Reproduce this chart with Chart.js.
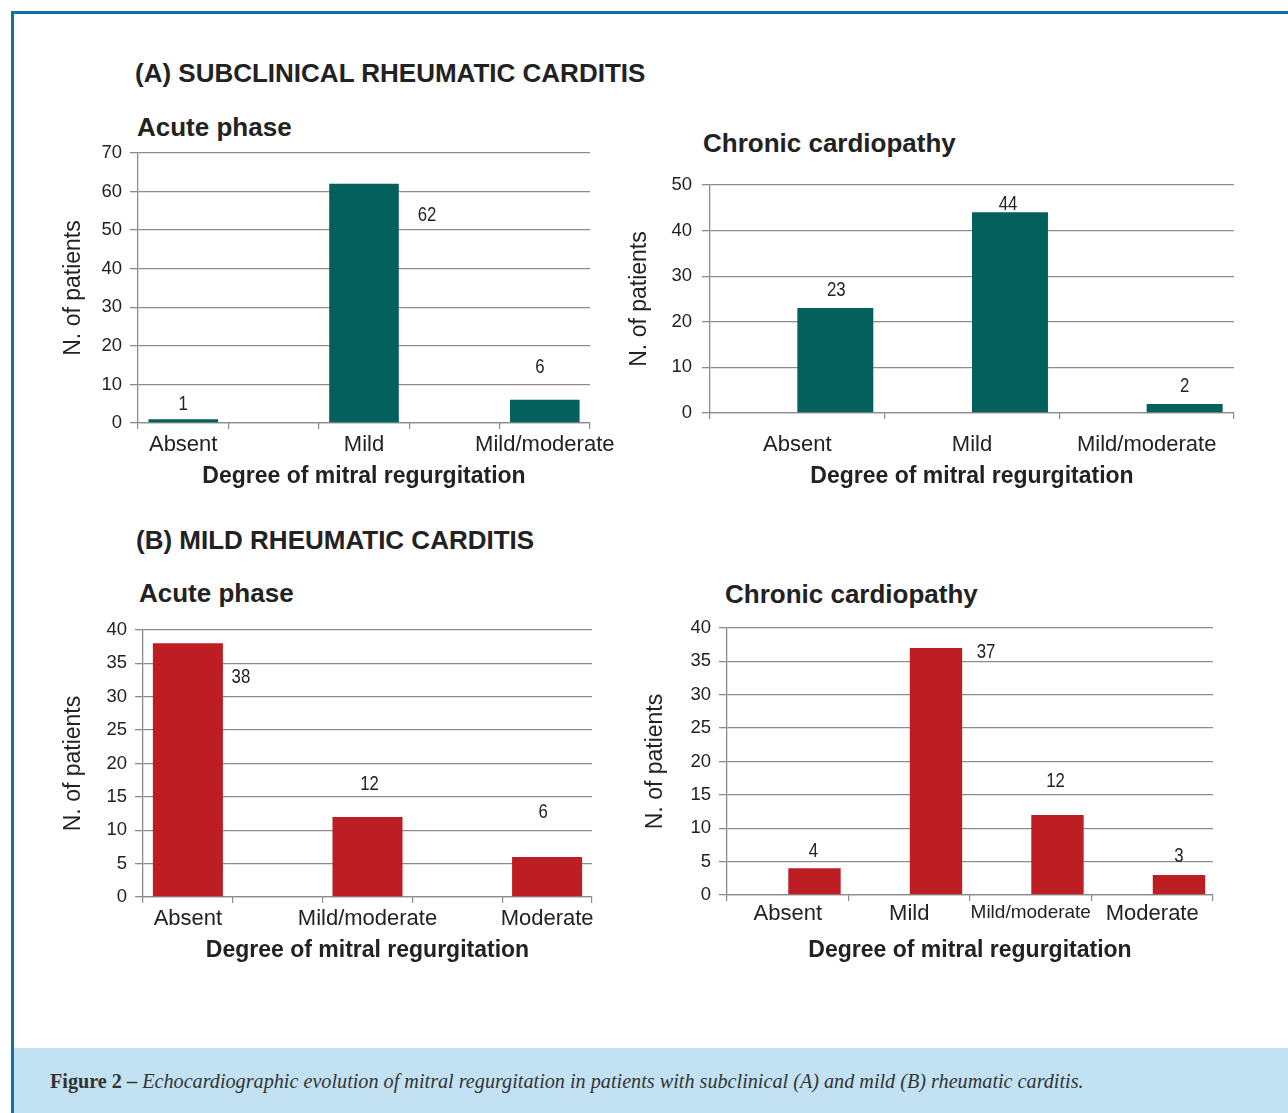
<!DOCTYPE html>
<html>
<head>
<meta charset="utf-8">
<script src="https://cdn.jsdelivr.net/npm/chart.js@4.4.0/dist/chart.umd.min.js"></script>
<style>
  body { margin: 0; background: #fff; width: 1288px; height: 1113px; position: relative; overflow: hidden;
         font-family: 'Liberation Sans', Arial, sans-serif; color: #222; }
  .frame-top { position: absolute; left: 11px; top: 11px; width: 1277px; height: 3px; background: #1370a3; }
  .frame-left { position: absolute; left: 11px; top: 11px; width: 3px; height: 1102px; background: #1370a3; }
  .heading { position: absolute; font-weight: bold; font-size: 26px; line-height: 1; white-space: nowrap; }
  .chart { position: absolute; }
  .caption { position: absolute; left: 14px; top: 1048px; width: 1274px; height: 65px; background: #c2e2f3; }
  .caption p { position: absolute; margin: 0; left: 36px; top: 23px; white-space: nowrap; line-height: 1;
               font-family: 'Liberation Serif', serif; font-size: 20.2px; color: #333; }
  .caption i { font-style: italic; }
</style>
</head>
<body>
<div class="frame-top"></div>
<div class="frame-left"></div>

<div class="heading" style="left:135px; top:60px;">(A) SUBCLINICAL RHEUMATIC CARDITIS</div>
<div class="heading" style="left:137px; top:114px;">Acute phase</div>
<div class="heading" style="left:703px; top:130px;">Chronic cardiopathy</div>
<div class="heading" style="left:136px; top:527px;">(B) MILD RHEUMATIC CARDITIS</div>
<div class="heading" style="left:139px; top:580px;">Acute phase</div>
<div class="heading" style="left:725px; top:581px;">Chronic cardiopathy</div>

<canvas id="acuteA" class="chart"></canvas>
<canvas id="chronicA" class="chart"></canvas>
<canvas id="acuteB" class="chart"></canvas>
<canvas id="chronicB" class="chart"></canvas>

<div class="caption"><p><b>Figure 2 –</b> <i>Echocardiographic evolution of mitral regurgitation in patients with subclinical (A) and mild (B) rheumatic carditis.</i></p></div>

<script>
// datos
// (A) subclínica - fase aguda (las categorías vacías son los huecos del gráfico original)
const acuteA_labels = ['Absent', '', 'Mild', '', 'Mild/moderate'];
const acuteA_values = [1, null, 62, null, 6];
// (A) subclínica - cardiopatía crónica
const chronicA_labels = ['Absent', 'Mild', 'Mild/moderate'];
const chronicA_values = [23, 44, 2];
// (B) leve - fase aguda
const acuteB_labels = ['Absent', '', 'Mild/moderate', '', 'Moderate'];
const acuteB_values = [38, null, 12, null, 6];
// (B) leve - cardiopatía crónica
const chronicB_labels = ['Absent', 'Mild', 'Mild/moderate', 'Moderate'];
const chronicB_values = [4, 37, 12, 3];

const yTicksA1 = { max: 70, step: 10 };
const yTicksA2 = { max: 50, step: 10 };
const yTicksB = { max: 40, step: 5 };

const TEAL = '#04605c';
const RED = '#bd1e24';
const GRID = '#8c8c8c';
const TEXT = '#222';
const SANS = "'Liberation Sans', Arial, sans-serif";

Chart.defaults.font.family = SANS;
Chart.defaults.color = TEXT;

// Etiquetas de valor sobre las barras (desplazadas como en el original, letra estrecha)
const valueLabels = {
    id: 'valueLabels',
    afterDatasetsDraw(chart, args, opts) {
        const ctx = chart.ctx;
        let k = 0;
        chart.data.datasets.forEach((ds, i) => {
            const meta = chart.getDatasetMeta(i);
            meta.data.forEach((bar, j) => {
                const v = ds.data[j];
                if (v === null || v === undefined) return;
                const off = opts.offsets[k++] || [0, -16];
                ctx.save();
                ctx.font = '21px ' + SANS;
                ctx.fillStyle = TEXT;
                ctx.textAlign = 'center';
                ctx.textBaseline = 'middle';
                ctx.translate(bar.x + off[0], bar.y + off[1]);
                ctx.scale(0.8, 1);
                ctx.fillText(String(v), 0, 0);
                ctx.restore();
            });
        });
    }
};

// Crea un gráfico cuyo área de trazado cae en el rectángulo geo (coordenadas de página)
function makeChart(id, geo, labels, datasets, yTicks, extra) {
    const canvas = document.getElementById(id);
    const cLeft = geo.L - 100, cTop = geo.T - 15;
    const cW = geo.R - geo.L + 160, cH = geo.xTitleY - geo.T + 45;
    canvas.style.left = cLeft + 'px';
    canvas.style.top = cTop + 'px';
    canvas.width = cW;
    canvas.height = cH;
    canvas.style.width = cW + 'px';
    canvas.style.height = cH + 'px';

    const yTitleFont = 23, xTitleFont = 23;
    const yOffset = yTitleFont * 1.2 / 2 + 4;
    const xOffset = xTitleFont * 1.2 / 2 + 4;
    const padLeft = geo.yTitleX - yOffset - cLeft;
    const padTop = geo.T - cTop;
    const padRight = cLeft + cW - geo.R;
    const xBottom = geo.xTitleY + xOffset;
    const padBottom = cTop + cH - xBottom;
    const yWidth = geo.L - cLeft - padLeft;
    const xHeight = xBottom - geo.B;

    return new Chart(canvas, {
        type: 'bar',
        data: { labels: labels, datasets: datasets },
        options: {
            responsive: false,
            animation: false,
            events: [],
            layout: { padding: { left: padLeft, top: padTop, right: padRight, bottom: padBottom } },
            plugins: {
                legend: { display: false },
                tooltip: { enabled: false },
                valueLabels: { offsets: extra.offsets }
            },
            scales: {
                x: {
                    grid: { drawOnChartArea: false, drawTicks: true, tickLength: 6, color: GRID, lineWidth: 1.2 },
                    border: { display: true, color: GRID, width: 1.3 },
                    ticks: {
                        autoSkip: false, maxRotation: 0, minRotation: 0,
                        padding: extra.xPad, color: TEXT,
                        font: extra.xFont || { size: 22 }
                    },
                    title: { display: true, text: 'Degree of mitral regurgitation', color: TEXT,
                             font: { size: xTitleFont, weight: 'bold' } },
                    afterFit(s) { s.height = xHeight; s.paddingLeft = 0; s.paddingRight = 0; }
                },
                y: {
                    min: 0, max: yTicks.max,
                    grid: { color: GRID, lineWidth: 1.3, tickLength: 8 },
                    border: { display: true, color: GRID, width: 1.3 },
                    ticks: { stepSize: yTicks.step, padding: extra.yPad, color: TEXT, font: { size: 18.5 } },
                    title: { display: true, text: 'N. of patients', color: TEXT, font: { size: yTitleFont } },
                    afterFit(s) { s.width = yWidth; s.paddingTop = 0; s.paddingBottom = 0; }
                }
            }
        },
        plugins: [valueLabels]
    });
}

makeChart('acuteA', { L: 138, T: 153, R: 590, B: 423, yTitleX: 74, xTitleY: 477 },
    acuteA_labels,
    [{ data: acuteA_values, backgroundColor: TEAL, barPercentage: 0.77, categoryPercentage: 1 }],
    yTicksA1,
    { xPad: 3, yPad: 8, offsets: [[0, -15], [63, 31], [-5, -33]] });

makeChart('chronicA', { L: 710, T: 185, R: 1234, B: 413, yTitleX: 640, xTitleY: 477 },
    chronicA_labels,
    [{ data: [null, null, null], backgroundColor: 'rgba(0,0,0,0)', barPercentage: 1, categoryPercentage: 0.87 },
     { data: chronicA_values, backgroundColor: TEAL, barPercentage: 1, categoryPercentage: 0.87 }],
    yTicksA2,
    { xPad: 13, yPad: 10, offsets: [[1, -18], [-2, -8], [0, -18]] });

makeChart('acuteB', { L: 143, T: 630, R: 592, B: 897, yTitleX: 74, xTitleY: 951 },
    acuteB_labels,
    [{ data: acuteB_values, backgroundColor: RED, barPercentage: 0.78, categoryPercentage: 1 }],
    yTicksB,
    { xPad: 3, yPad: 8, offsets: [[53, 34], [2, -33], [-4, -45]] });

makeChart('chronicB', { L: 727, T: 628, R: 1213, B: 895, yTitleX: 656, xTitleY: 951 },
    chronicB_labels,
    [{ data: [null, null, null, null], backgroundColor: 'rgba(0,0,0,0)', barPercentage: 0.98, categoryPercentage: 0.88 },
     { data: chronicB_values, backgroundColor: RED, barPercentage: 0.98, categoryPercentage: 0.88 }],
    yTicksB,
    { xPad: 0, yPad: 8, offsets: [[-1, -17], [50, 4], [-2, -34], [0, -19]],
      xFont: (c) => (c.tick && c.tick.label === 'Mild/moderate') ? { size: 19 } : { size: 22 } });
</script>
</body>
</html>
